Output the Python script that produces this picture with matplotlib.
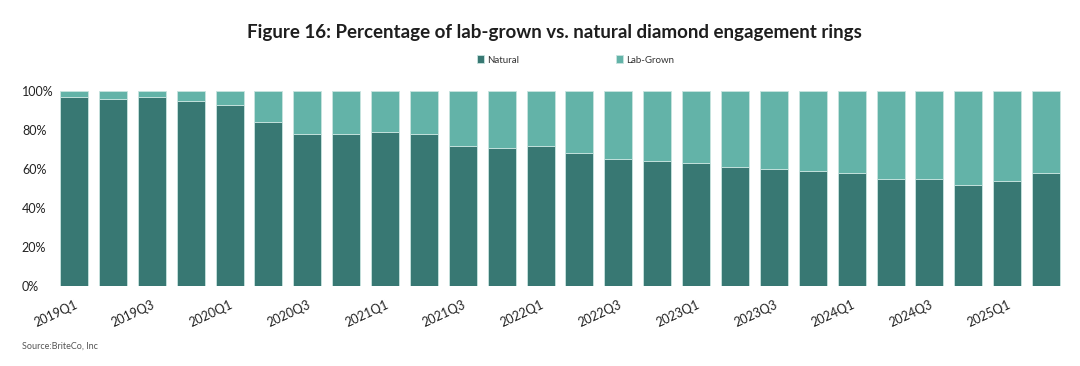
import numpy as np
import matplotlib
matplotlib.use("Agg")
import matplotlib.pyplot as plt
from matplotlib.ticker import PercentFormatter

plt.rcParams['font.family'] = ['Lato', 'DejaVu Sans']

# 数据
quarters = ['2019Q1', '2019Q2', '2019Q3', '2019Q4',
            '2020Q1', '2020Q2', '2020Q3', '2020Q4',
            '2021Q1', '2021Q2', '2021Q3', '2021Q4',
            '2022Q1', '2022Q2', '2022Q3', '2022Q4',
            '2023Q1', '2023Q2', '2023Q3', '2023Q4',
            '2024Q1', '2024Q2', '2024Q3', '2024Q4',
            '2025Q1', '2025Q2']
natural = [97, 96, 97, 95, 93, 84, 78, 78, 79, 78, 72, 71, 72,
           68, 65, 64, 63, 61, 60, 59, 58, 55, 55, 52, 54, 58]
lab_grown = [100 - v for v in natural]

c_nat = '#387873'
c_lab = '#63b3a8'

fig = plt.figure(figsize=(10.8, 3.66), dpi=100)
ax = fig.add_axes([0.0505, 0.2186, 0.9361, 0.5328])

x = np.arange(len(quarters))
nat = np.array(natural) / 100
lab = np.array(lab_grown) / 100
ax.bar(x, nat, width=0.72, color=c_nat, edgecolor='#c9e4e0', linewidth=0.6, label='Natural')
ax.bar(x, lab, bottom=nat, width=0.72, color=c_lab, edgecolor='#c9e4e0', linewidth=0.6, label='Lab-Grown')

ax.set_xlim(-0.5, len(quarters) - 0.5)
ax.set_ylim(0, 1)
ax.set_yticks(np.arange(0, 1.01, 0.2))
ax.yaxis.set_major_formatter(PercentFormatter(1.0, decimals=0))
for s in ax.spines.values():
    s.set_visible(False)
ax.tick_params(axis='y', length=0, pad=23.5, labelsize=9, labelcolor='#222222')
for lbl in ax.get_yticklabels():
    lbl.set_horizontalalignment('left')

ax.set_xticks(x[::2])
ax.set_xticklabels(quarters[::2], rotation=25, ha='right', rotation_mode='anchor',
                   fontsize=9, color='#222222')
ax.tick_params(axis='x', length=0, pad=9)

fig.text(0.513, 0.912, 'Figure 16: Percentage of lab-grown vs. natural diamond engagement rings',
         ha='center', va='center', fontsize=13.5, fontweight='bold', color='#1e1e1e')

fig.legend(loc='center', bbox_to_anchor=(0.533, 0.836), ncol=2, frameon=False,
           fontsize=7, handlelength=0.7, handleheight=0.9, handletextpad=0.3,
           columnspacing=10, labelcolor='#333333')

fig.text(0.02, 0.055, 'Source:BriteCo, Inc', ha='left', va='center', fontsize=6.5, color='#555555')

fig.savefig('out.png', dpi=100)
